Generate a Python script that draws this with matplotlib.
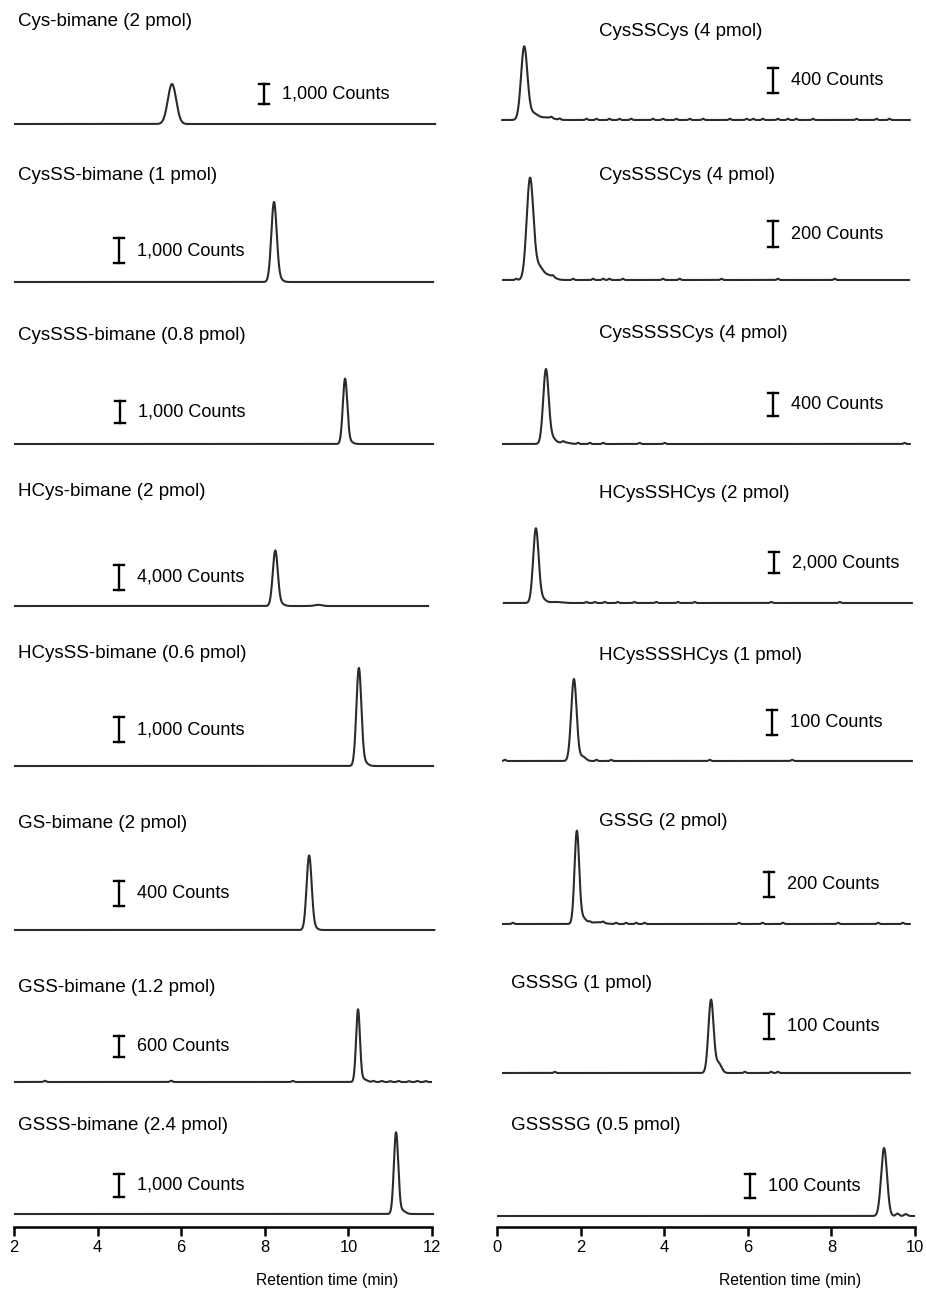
import numpy as np
import matplotlib
matplotlib.use("Agg")
import matplotlib.pyplot as plt

plt.rcParams['font.family'] = ['Liberation Sans', 'DejaVu Sans']

W, H = 926, 1296

# ---- left column (2-12 min) ----
left_names = ["Cys-bimane (2 pmol)", "CysSS-bimane (1 pmol)", "CysSSS-bimane (0.8 pmol)",
              "HCys-bimane (2 pmol)", "HCysSS-bimane (0.6 pmol)", "GS-bimane (2 pmol)",
              "GSS-bimane (1.2 pmol)", "GSSS-bimane (2.4 pmol)"]
left_scale = [1000, 1000, 1000, 4000, 1000, 400, 600, 1000]
left_rt = [5.78, 8.22, 9.92, 8.25, 10.25, 9.06, 10.23, 11.14]
left_height = [2000, 3160, 2950, 8800, 3930, 1184, 2057, 3520]
left_sigma = [0.10, 0.064, 0.053, 0.06, 0.059, 0.06, 0.046, 0.052]
left_start = [2.0, 2.0, 2.0, 2.0, 2.0, 2.0, 2.0, 2.0]
left_end = [12.1, 12.05, 12.05, 11.93, 12.05, 12.08, 12.0, 12.05]
# minor peaks / tails: (rt, counts, sigma)
left_minor = [
    [],
    [(8.34, 120, 0.08)],
    [(10.04, 100, 0.07)],
    [(8.38, 350, 0.08), (9.27, 200, 0.08)],
    [(10.38, 150, 0.08)],
    [(9.18, 40, 0.07)],
    [(10.36, 80, 0.08), (2.74, 35, 0.03), (5.76, 35, 0.03), (8.67, 30, 0.03),
     (10.6, 30, 0.03), (10.8, 30, 0.03), (11.0, 25, 0.03), (11.2, 30, 0.03),
     (11.45, 25, 0.03), (11.65, 30, 0.03), (11.85, 25, 0.03)],
    [(11.28, 150, 0.08)],
]

# ---- right column (0-10 min) ----
right_names = ["CysSSCys (4 pmol)", "CysSSSCys (4 pmol)", "CysSSSSCys (4 pmol)",
               "HCysSSHCys (2 pmol)", "HCysSSSHCys (1 pmol)", "GSSG (2 pmol)",
               "GSSSG (1 pmol)", "GSSSSG (0.5 pmol)"]
right_scale = [400, 200, 400, 2000, 100, 200, 100, 100]
right_rt = [0.65, 0.79, 1.17, 0.93, 1.84, 1.91, 5.12, 9.26]
right_height = [1152, 786, 1270, 7048, 328, 745, 296, 287]
right_sigma = [0.075, 0.08, 0.065, 0.065, 0.065, 0.055, 0.062, 0.07]
right_start = [0.1, 0.12, 0.12, 0.14, 0.12, 0.12, 0.12, 0.0]
right_end = [9.9, 9.88, 9.9, 9.95, 9.95, 9.9, 9.9, 10.0]
right_minor = [
    [(0.85, 110, 0.12), (1.2, 40, 0.15)],
    [(1.0, 100, 0.1), (1.25, 35, 0.12)],
    [(1.32, 100, 0.08), (1.6, 30, 0.12)],
    [(1.08, 400, 0.08), (1.4, 100, 0.15)],
    [(2.05, 18, 0.07)],
    [(2.05, 50, 0.08), (2.4, 15, 0.15)],
    [(5.3, 40, 0.07)],
    [(9.58, 10, 0.04), (9.78, 8, 0.04)],
]
right_bumps = [
    [1.30, 1.50, 2.14, 2.38, 2.69, 2.93, 3.21, 3.73, 3.97, 4.29, 4.61, 4.93,
     5.57, 5.97, 6.13, 6.36, 6.72, 6.96, 7.16, 7.56, 8.60, 9.08, 9.39],
    [0.46, 1.34, 1.82, 2.30, 2.54, 2.69, 3.01, 3.97, 4.37, 5.37, 6.72, 8.08],
    [1.58, 1.94, 2.22, 2.54, 3.41, 4.01, 9.75],
    [2.14, 2.34, 2.58, 2.89, 3.29, 3.81, 4.33, 4.73, 6.56, 8.20],
    [0.19, 2.38, 2.73, 5.09, 7.06],
    [0.38, 2.22, 2.54, 2.85, 3.09, 3.33, 3.53, 5.79, 6.35, 6.84, 8.16, 9.12, 9.71],
    [1.38, 5.93, 6.56, 6.72],
    [],
]
right_bump_h = [20, 10, 20, 100, 5, 10, 5, 6]

# ---- layout (pixels) ----
left_x0, left_x1 = 14, 432
right_x0, right_x1 = 497, 915
left_base = [124, 282, 444, 606, 766, 930, 1082, 1214]
right_base = [120, 280, 444, 603, 761, 924, 1073, 1216]
left_bar_px = [20, 25, 22, 25, 24.7, 25, 21, 23]
right_bar_px = [25, 25.7, 23.3, 21, 25, 24.7, 24.7, 23.7]
left_bar_x = [264, 119, 120, 119, 119, 119, 119, 119]
right_bar_x = [773, 773, 773, 774, 772, 769, 769, 750]
left_bar_bot = [104, 263, 423, 590, 742, 906, 1057, 1197]
right_bar_bot = [93, 247, 416, 573, 735, 897, 1039, 1198]
left_lab_y = [22, 175, 335, 492, 653, 823, 987, 1125]
right_lab_y = [31, 175, 334, 493, 655, 822, 983, 1125]
right_lab_x = [599, 599, 599, 599, 599, 599, 511, 511]
axis_y = 1227

fig = plt.figure(figsize=(W / 100, H / 100), dpi=100)


def trace(t, rt, h, s, minor, bumps=(), bump_h=0):
    y = h * np.exp(-0.5 * ((t - rt) / s) ** 2)
    for r, mh, ms in minor:
        y += mh * np.exp(-0.5 * ((t - r) / ms) ** 2)
    for r in bumps:
        y += bump_h * np.exp(-0.5 * ((t - r) / 0.025) ** 2)
    return y


def draw_column(x0, x1, xmin, xmax, names, scale, rt, height, sigma, start, end,
                minor, base, bar_px, bar_x, bar_bot, lab_x, lab_y, bumps, bump_h, xlabel_x):
    ppm = (x1 - x0) / (xmax - xmin)
    for i in range(8):
        cpp = scale[i] / bar_px[i]
        top_px = base[i] - 125
        bot_px = axis_y if i == 7 else base[i] + 6
        ax = fig.add_axes([x0 / W, 1 - bot_px / H, (x1 - x0) / W, (bot_px - top_px) / H])
        ax.set_xlim(xmin, xmax)
        ax.set_ylim(-(bot_px - base[i]) * cpp, (base[i] - top_px) * cpp)
        t = np.linspace(start[i], end[i], 3000)
        y = trace(t, rt[i], height[i], sigma[i], minor[i], bumps[i], bump_h[i])
        ax.plot(t, y, color='#2b2b2b', lw=1.5, clip_on=False, solid_capstyle='butt')

        # scale bar
        bx = xmin + (bar_x[i] - x0) / ppm
        yb = (base[i] - bar_bot[i]) * cpp
        cap = 5 / ppm
        ax.plot([bx, bx], [yb, yb + scale[i]], color='black', lw=1.7, clip_on=False)
        ax.plot([bx - cap, bx + cap], [yb, yb], color='black', lw=1.7, clip_on=False)
        ax.plot([bx - cap, bx + cap], [yb + scale[i], yb + scale[i]], color='black', lw=1.7, clip_on=False)
        ax.text(bx + 18 / ppm, yb + scale[i] / 2, f"{scale[i]:,} Counts", fontsize=13.1,
                va='center', ha='left')

        fig.text(lab_x[i] / W, 1 - lab_y[i] / H, names[i], fontsize=13.5, va='center', ha='left')

        for s in ['top', 'right', 'left']:
            ax.spines[s].set_visible(False)
        ax.set_yticks([])
        if i == 7:
            ax.spines['bottom'].set_linewidth(1.8)
            ax.spines['bottom'].set_position(('outward', 0))
            ax.set_xticks(np.arange(xmin, xmax + 1, 2))
            ax.tick_params(axis='x', direction='out', length=6.5, width=1.8, labelsize=11.9, pad=3)
        else:
            ax.spines['bottom'].set_visible(False)
            ax.set_xticks([])
        ax.patch.set_alpha(0)

    fig.text(xlabel_x / W, 1 - 1280 / H, "Retention time (min)", fontsize=11.3, ha='center', va='center')


draw_column(left_x0, left_x1, 2, 12, left_names, left_scale, left_rt, left_height, left_sigma,
            left_start, left_end, left_minor, left_base, left_bar_px, left_bar_x, left_bar_bot,
            [18] * 8, left_lab_y, [[]] * 8, [0] * 8, 327)
draw_column(right_x0, right_x1, 0, 10, right_names, right_scale, right_rt, right_height, right_sigma,
            right_start, right_end, right_minor, right_base, right_bar_px, right_bar_x, right_bar_bot,
            right_lab_x, right_lab_y, right_bumps, right_bump_h, 790)

fig.savefig("out.png", dpi=100)
